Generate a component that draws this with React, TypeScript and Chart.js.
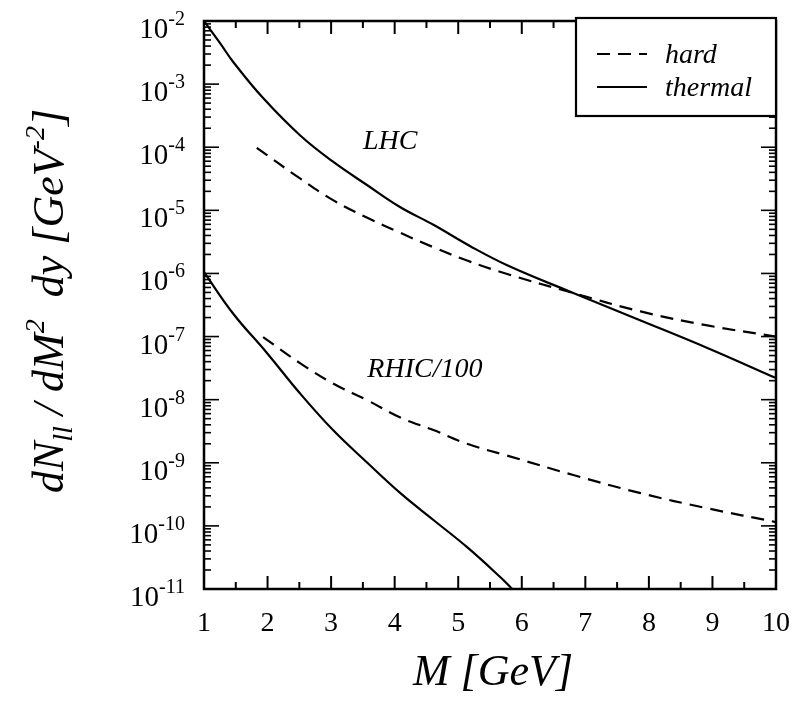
import React, { useEffect, useRef } from "react";
import { Chart, registerables } from "chart.js";

Chart.register(...registerables);

// ---- data ----
const LHC_THERMAL_M = [1, 1.25, 1.46, 1.93, 2.51, 3.03, 3.57, 4.09, 4.61, 5.19, 5.77, 6.81, 7.87, 8.92, 10];
const LHC_THERMAL_Y = [1e-2, 4.5e-3, 2.24e-3, 6.0e-4, 1.55e-4, 5.9e-5, 2.5e-5, 1.12e-5, 5.9e-6, 2.7e-6, 1.35e-6, 4.9e-7, 1.8e-7, 6.6e-8, 2.2e-8];

const LHC_HARD_M = [1.83, 2.51, 3.03, 3.57, 4.09, 4.61, 5.14, 5.77, 6.81, 7.87, 8.92, 10];
const LHC_HARD_Y = [9.8e-5, 3.2e-5, 1.45e-5, 7.6e-6, 4.4e-6, 2.6e-6, 1.6e-6, 9.8e-7, 4.9e-7, 2.5e-7, 1.5e-7, 1.0e-7];

const RHIC_THERMAL_M = [1, 1.46, 1.99, 2.51, 3.03, 3.57, 4.09, 4.61, 5.14, 5.66, 5.85];
const RHIC_THERMAL_Y = [1.05e-6, 2.3e-7, 5.5e-8, 1.26e-8, 3.3e-9, 1.0e-9, 3.3e-10, 1.24e-10, 4.6e-11, 1.55e-11, 1e-11];

const RHIC_HARD_M = [1.93, 2.51, 3.03, 3.57, 4.09, 4.61, 5.14, 5.77, 6.81, 7.87, 8.92, 10];
const RHIC_HARD_Y = [9.8e-8, 3.8e-8, 1.8e-8, 9.8e-9, 5.2e-9, 3.3e-9, 2.0e-9, 1.3e-9, 6.4e-10, 3.3e-10, 1.9e-10, 1.15e-10];

const X_TICKS = [1, 2, 3, 4, 5, 6, 7, 8, 9, 10];
const X_MINOR_TICKS = [1.5, 2.5, 3.5, 4.5, 5.5, 6.5, 7.5, 8.5, 9.5];
const Y_EXPONENTS = [-2, -3, -4, -5, -6, -7, -8, -9, -10, -11];
const Y_MINOR_MULTS = [2, 3, 4, 5, 6, 7, 8, 9];

const LEGEND_LABELS = ["hard", "thermal"];
const CURVE_LABELS = [
  { text: "LHC", x: 3.5, y: 9.3e-5 },
  { text: "RHIC/100", x: 3.57, y: 2.3e-8 },
];
const X_TITLE = "M [GeV]";

const SERIF = "'Liberation Serif', 'Times New Roman', serif";
const DASH = [13, 8];

function pts(xs: number[], ys: number[]) {
  return xs.map((x, i) => ({ x, y: ys[i] }));
}

const framePlugin = {
  id: "frame",
  afterDatasetsDraw(chart: any) {
    const { ctx, chartArea: a, scales } = chart;
    const xs = scales.x;
    const ys = scales.y;
    const seg = (x1: number, y1: number, x2: number, y2: number) => {
      ctx.beginPath();
      ctx.moveTo(x1, y1);
      ctx.lineTo(x2, y2);
      ctx.stroke();
    };
    ctx.save();
    ctx.strokeStyle = "#000";
    ctx.fillStyle = "#000";

    // ticks
    ctx.lineWidth = 2;
    X_TICKS.forEach((v) => {
      const px = xs.getPixelForValue(v);
      seg(px, a.bottom, px, a.bottom - 13);
      seg(px, a.top, px, a.top + 13);
    });
    X_MINOR_TICKS.forEach((v) => {
      const px = xs.getPixelForValue(v);
      seg(px, a.bottom, px, a.bottom - 7);
      seg(px, a.top, px, a.top + 7);
    });
    ctx.lineWidth = 1.6;
    Y_EXPONENTS.forEach((e) => {
      const py = ys.getPixelForValue(Math.pow(10, e));
      seg(a.left, py, a.left + 15, py);
      seg(a.right, py, a.right - 15, py);
      Y_MINOR_MULTS.forEach((m) => {
        const v = m * Math.pow(10, e);
        if (v > 1e-2) return;
        const p = ys.getPixelForValue(v);
        seg(a.left, p, a.left + 7, p);
        seg(a.right, p, a.right - 7, p);
      });
    });

    // frame
    ctx.lineWidth = 2.5;
    ctx.strokeRect(a.left, a.top, a.right - a.left, a.bottom - a.top);

    // x tick labels
    ctx.font = `28px ${SERIF}`;
    ctx.textAlign = "center";
    ctx.textBaseline = "alphabetic";
    X_TICKS.forEach((v) => {
      ctx.fillText(String(v), xs.getPixelForValue(v), a.bottom + 42);
    });

    // y tick labels (10 with superscript exponent)
    Y_EXPONENTS.forEach((e) => {
      const py = ys.getPixelForValue(Math.pow(10, e));
      const exp = String(e);
      ctx.font = `20px ${SERIF}`;
      const ew = ctx.measureText(exp).width;
      const right = a.left - 19;
      ctx.textAlign = "left";
      ctx.fillText(exp, right - ew, py + 4);
      ctx.font = `29px ${SERIF}`;
      ctx.textAlign = "right";
      ctx.fillText("10", right - ew, py + 17);
    });

    // curve labels
    ctx.font = `italic 28px ${SERIF}`;
    ctx.textAlign = "left";
    CURVE_LABELS.forEach((l) => {
      ctx.fillText(l.text, xs.getPixelForValue(l.x), ys.getPixelForValue(l.y));
    });

    // legend box
    const lw = 200;
    const lh = 98;
    const lx = a.right - lw;
    const ly = a.top - 3;
    ctx.fillStyle = "#fff";
    ctx.fillRect(lx, ly, lw, lh);
    ctx.fillStyle = "#000";
    ctx.lineWidth = 2.2;
    ctx.strokeRect(lx, ly, lw, lh);
    const dsets = chart.data.datasets;
    LEGEND_LABELS.forEach((lab, i) => {
      const yy = ly + 36 + i * 33;
      const ds = dsets[i];
      ctx.lineWidth = ds.borderWidth;
      ctx.setLineDash(ds.borderDash || []);
      seg(lx + 21, yy, lx + 71, yy);
      ctx.setLineDash([]);
      ctx.font = `italic 28px ${SERIF}`;
      ctx.textAlign = "left";
      ctx.fillText(lab, lx + 89, yy + 9);
    });

    // x title
    ctx.font = `italic 44px ${SERIF}`;
    ctx.textAlign = "center";
    ctx.fillText(X_TITLE, (a.left + a.right) / 2 + 3, a.bottom + 96);

    // y title with sub/superscripts, rotated
    const parts: [string, number, number][] = [
      ["dN", 44, 0],
      ["ll", 28, 9],
      [" / dM", 44, 0],
      ["2", 28, -19],
      ["  dy [GeV", 44, 0],
      ["-2", 28, -19],
      ["]", 44, 0],
    ];
    let total = 0;
    parts.forEach(([t, s]) => {
      ctx.font = `italic ${s}px ${SERIF}`;
      total += ctx.measureText(t).width;
    });
    ctx.translate(63, (a.top + a.bottom) / 2 - 4);
    ctx.rotate(-Math.PI / 2);
    let cx = -total / 2;
    ctx.textAlign = "left";
    parts.forEach(([t, s, off]) => {
      ctx.font = `italic ${s}px ${SERIF}`;
      ctx.fillText(t, cx, off);
      cx += ctx.measureText(t).width;
    });
    ctx.restore();
  },
};

export default function App() {
  const ref = useRef<HTMLCanvasElement | null>(null);
  useEffect(() => {
    if (!ref.current) return;
    const common = {
      borderColor: "#000",
      backgroundColor: "#000",
      borderWidth: 2.2,
      pointRadius: 0,
      fill: false,
      tension: 0.4,
    };
    const chart = new Chart(ref.current, {
      type: "line",
      data: {
        datasets: [
          { ...common, label: "LHC hard", data: pts(LHC_HARD_M, LHC_HARD_Y), borderDash: DASH },
          { ...common, label: "LHC thermal", data: pts(LHC_THERMAL_M, LHC_THERMAL_Y) },
          { ...common, label: "RHIC/100 hard", data: pts(RHIC_HARD_M, RHIC_HARD_Y), borderDash: DASH },
          { ...common, label: "RHIC/100 thermal", data: pts(RHIC_THERMAL_M, RHIC_THERMAL_Y) },
        ],
      },
      options: {
        responsive: false,
        animation: false,
        layout: { padding: { left: 204, right: 27, top: 21, bottom: 112 } },
        plugins: { legend: { display: false }, tooltip: { enabled: false } },
        scales: {
          x: { type: "linear", min: 1, max: 10, display: false },
          y: { type: "logarithmic", min: 1e-11, max: 1e-2, display: false },
        },
      },
      plugins: [framePlugin],
    });
    return () => chart.destroy();
  }, []);
  return (
    <div style={{ position: "fixed", left: 0, top: 0, width: 803, height: 701, background: "#fff" }}>
      <canvas ref={ref} width={803} height={701} />
    </div>
  );
}
